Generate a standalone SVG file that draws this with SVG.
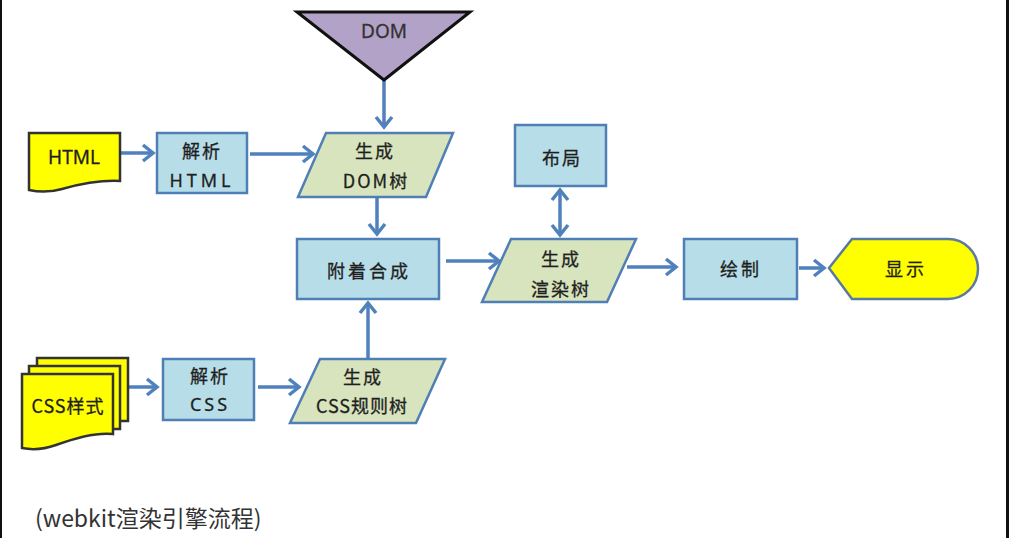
<svg xmlns="http://www.w3.org/2000/svg" width="1009" height="538" viewBox="0 0 1009 538">
<defs>
<style>
.box{fill:#b7dee8;stroke:#4f7fb5;stroke-width:2.5}
.para{fill:#d7e4bd;stroke:#4f7fb5;stroke-width:2.5}
.doc{fill:#ffff00;stroke:#333333;stroke-width:2.5}
.t{font-family:"Noto Sans CJK SC","Noto Sans",sans-serif;font-size:18px;fill:#1f1f1f;stroke:#1f1f1f;stroke-width:0.3px;text-anchor:middle;dominant-baseline:central;letter-spacing:2px}
.lat{font-family:"Noto Sans","Noto Sans CJK SC",sans-serif;font-size:18px;fill:#1f1f1f;stroke:#1f1f1f;stroke-width:0.3px;text-anchor:middle;dominant-baseline:central}
.conn line{stroke:#4f81bd;stroke-width:3.5;fill:none}
</style>
<marker id="ah" markerUnits="userSpaceOnUse" markerWidth="24" markerHeight="24" viewBox="-4 -12 18 24" refX="10" refY="0" orient="auto-start-reverse" overflow="visible">
<path d="M0,-8 L10,0 L0,8" fill="none" stroke="#4f81bd" stroke-width="3.5"/>
</marker>
</defs>
<rect x="0" y="0" width="1009" height="538" fill="#ffffff"/>
<rect x="0" y="0" width="2" height="538" fill="#111111"/>
<rect x="1006" y="0" width="3" height="538" fill="#111111"/>

<g id="connectors" class="conn">
<line x1="384" y1="80" x2="384" y2="127" marker-end="url(#ah)"/>
<line x1="121" y1="153" x2="153" y2="153" marker-end="url(#ah)"/>
<line x1="250" y1="154" x2="313" y2="154" marker-end="url(#ah)"/>
<line x1="377" y1="198" x2="377" y2="234" marker-end="url(#ah)"/>
<line x1="368" y1="358" x2="368" y2="303" marker-end="url(#ah)"/>
<line x1="129" y1="387" x2="157" y2="387" marker-end="url(#ah)"/>
<line x1="258" y1="387" x2="299" y2="387" marker-end="url(#ah)"/>
<line x1="446" y1="261" x2="499" y2="261" marker-end="url(#ah)"/>
<line x1="560" y1="190" x2="560" y2="235" marker-start="url(#ah)" marker-end="url(#ah)"/>
<line x1="627" y1="267" x2="676" y2="267" marker-end="url(#ah)"/>
<line x1="799" y1="268" x2="824" y2="268" marker-end="url(#ah)"/>
</g>

<g id="dom">
<polygon points="297,12 470,12 384,80" fill="#b3a2c7" stroke="#111111" stroke-width="3"/>
<text class="lat" x="384" y="31" style="font-size:19px;fill:#333333;stroke:#333333">DOM</text>
</g>

<g id="html">
<path class="doc" d="M29,133 H120 V181 C100,180 80,184 62,189 C48,193 38,192 29,190 Z"/>
<text class="lat" x="74" y="157" style="font-size:19px">HTML</text>
</g>

<g id="parse-html">
<rect class="box" x="157" y="133" width="90" height="60"/>
<text class="t" x="202" y="150">解析</text>
<text class="lat" x="202" y="180" style="letter-spacing:4px">HTML</text>
</g>

<g id="dom-tree">
<polygon class="para" points="326,133 453,133 426,197 298,197"/>
<text class="t" x="375" y="150">生成</text>
<text class="t" x="376" y="180">DOM树</text>
</g>

<g id="attach">
<rect class="box" x="297" y="239" width="142" height="60"/>
<text class="t" x="369" y="270" style="letter-spacing:3px">附着合成</text>
</g>

<g id="layout">
<rect class="box" x="515" y="125" width="91" height="61"/>
<text class="t" x="562" y="157">布局</text>
</g>

<g id="render-tree">
<polygon class="para" points="511,239 636,239 607,302 482,302"/>
<text class="t" x="561" y="258">生成</text>
<text class="t" x="561" y="288">渲染树</text>
</g>

<g id="paint">
<rect class="box" x="684" y="239" width="113" height="60"/>
<text class="t" x="741" y="268" style="letter-spacing:3px">绘制</text>
</g>

<g id="display">
<path d="M829,268 L852,239 H948 A30,30 0 0 1 948,299 H852 Z" fill="#ffff00" stroke="#5b7aa0" stroke-width="2.5"/>
<text class="t" x="906" y="268" style="letter-spacing:3px">显示</text>
</g>

<g id="css">
<rect class="doc" x="37" y="358" width="91" height="63"/>
<rect class="doc" x="29" y="366" width="91" height="63"/>
<path class="doc" d="M22,374 H113 V434 C95,432 75,438 56,445 C42,450 32,450 22,448 Z"/>
<text class="t" x="68" y="405" style="letter-spacing:1px">CSS样式</text>
</g>

<g id="parse-css">
<rect class="box" x="163" y="359" width="91" height="61"/>
<text class="t" x="210" y="375">解析</text>
<text class="lat" x="210" y="404" style="letter-spacing:3px">CSS</text>
</g>

<g id="css-tree">
<polygon class="para" points="320,359 445,359 416,423 290,423"/>
<text class="t" x="363" y="376">生成</text>
<text class="t" x="362" y="405" style="letter-spacing:1px">CSS规则树</text>
</g>

<text x="35" y="527" style="font-family:'Noto Sans CJK SC','Noto Sans',sans-serif;font-size:23px;fill:#333333">(webkit渲染引擎流程)</text>
</svg>
